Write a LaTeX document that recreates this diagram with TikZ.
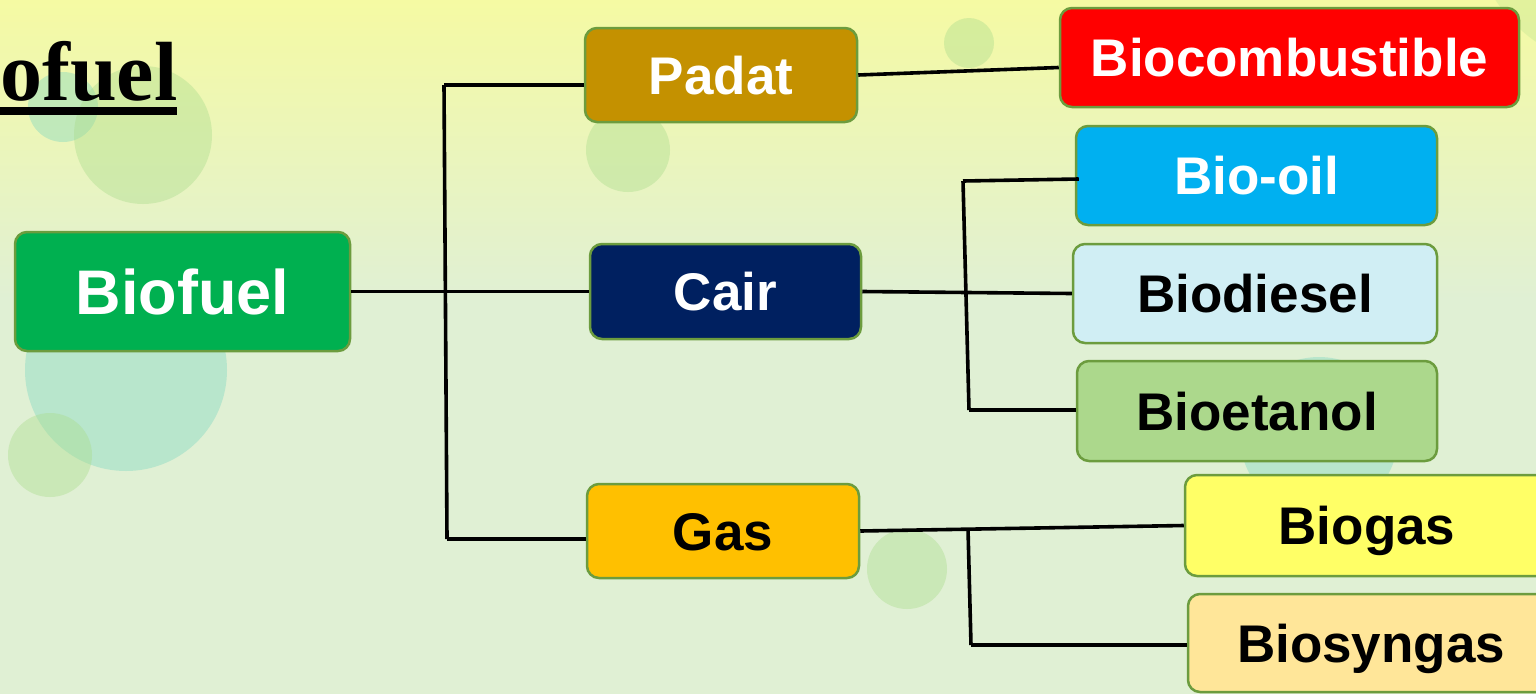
\documentclass[tikz,border=0pt]{standalone}
\usepackage{fontspec}
\setmainfont{Liberation Sans}
\newfontfamily\titlefont{Liberation Serif}
\usetikzlibrary{calc}

\definecolor{bgtop}{RGB}{245,250,163}
\definecolor{bgbot}{RGB}{224,240,212}
\definecolor{dotteal}{RGB}{126,215,192}
\definecolor{dotgreen}{RGB}{170,220,140}
\definecolor{boxline}{RGB}{108,156,62}
\definecolor{cgreen}{RGB}{0,176,80}
\definecolor{cgold}{RGB}{196,145,0}
\definecolor{cnavy}{RGB}{0,32,96}
\definecolor{camber}{RGB}{255,192,0}
\definecolor{cred}{RGB}{255,0,0}
\definecolor{csky}{RGB}{0,176,240}
\definecolor{cice}{RGB}{208,238,244}
\definecolor{cleaf}{RGB}{172,216,140}
\definecolor{clemon}{RGB}{255,255,102}
\definecolor{ccream}{RGB}{255,230,153}

\begin{document}
\begin{tikzpicture}[x=1pt,y=-1pt,
  box/.style={draw=boxline, line width=2.5pt, rounded corners=12pt,
    inner sep=0pt, font=\fontsize{53}{60}\selectfont\bfseries,
    text height=38pt, text depth=0pt},
  link/.style={line width=3.6pt, draw=black},
  dot/.style={fill=#1, fill opacity=0.4}
]
\useasboundingbox (0,0) rectangle (1536,694);

% background
\fill[bgbot] (0,0) rectangle (1536,694);
\shade[top color=bgtop, bottom color=bgbot] (0,0) rectangle (1536,300);

% decorative bubbles
\fill[dot=dotteal] (63,107) circle (35);
\fill[dot=dotgreen] (143,135) circle (69);
\fill[dot=dotteal] (126,370) circle (101);
\fill[dot=dotgreen] (50,455) circle (42);
\fill[dot=dotgreen] (628,150) circle (42);
\fill[dot=dotgreen] (969,43) circle (25);
\fill[dot=dotgreen] (907,569) circle (40);
\fill[dot=dotteal] (1319,436) circle (79);
\fill[dotgreen, fill opacity=0.25] (1620,-80) circle (148);

% heading
\node[anchor=base west, inner sep=0pt,
  font=\titlefont\bfseries\fontsize{84}{90}\selectfont] (title) at (0,100) {ofuel};
\fill (0,107) rectangle (177,115);

% boxes
\node[box, fill=cgreen, text=white, minimum width=335pt, minimum height=119pt,
  font=\fontsize{63}{70}\selectfont\bfseries, text height=45pt] (biofuel) at (182.5,291.5) {Biofuel};
\node[box, fill=cgold, text=white, minimum width=272pt, minimum height=94pt] (padat) at (721,75) {Padat};
\node[box, fill=cnavy, text=white, minimum width=271pt, minimum height=95pt] (cair) at (725.5,291.5) {Cair};
\node[box, fill=camber, text=black, minimum width=272pt, minimum height=94pt] (gas) at (723,531) {Gas};
\node[box, fill=cred, text=white, minimum width=459pt, minimum height=99pt] (bioc) at (1289.5,57.5) {Biocombustible};
\node[box, fill=csky, text=white, minimum width=361pt, minimum height=99pt] (biooil) at (1256.5,175.5) {Bio-oil};
\node[box, fill=cice, text=black, minimum width=364pt, minimum height=99pt] (biodiesel) at (1255,293.5) {Biodiesel};
\node[box, fill=cleaf, text=black, minimum width=360pt, minimum height=100pt] (bioetanol) at (1257,411) {Bioetanol};
\node[box, fill=clemon, text=black, minimum width=364pt, minimum height=101pt] (biogas) at (1367,525.5) {Biogas};
\node[box, fill=ccream, text=black, minimum width=366pt, minimum height=98pt] (biosyngas) at (1371,643) {Biosyngas};

% branch corners
\coordinate (b1t) at (444,85);
\coordinate (b1b) at (447,539);
\coordinate (b2t) at (963,181);
\coordinate (b2b) at (969,410);
\coordinate (b3t) at (968,529);
\coordinate (b3b) at (971,645);

% connectors
\draw[link] (biofuel.east) -- (cair.west);
\draw[link] (b1t) -- (b1b);
\draw[link] (b1t) -- (padat.west |- b1t);
\draw[link] (b1b) -- (gas.west |- b1b);
\draw[link] (padat.east) -- ($(bioc.west)+(0,10)$);
\draw[link] (cair.east) -- (biodiesel.west);
\draw[link] (b2t) -- (b2b);
\draw[link] (b2t) -- ($(biooil.west)+(4,3.5)$);
\draw[link] (b2b) -- (bioetanol.west |- b2b);
\draw[link] (gas.east) -- (biogas.west);
\draw[link] (b3t) -- (b3b);
\draw[link] (b3b) -- (biosyngas.west |- b3b);
\end{tikzpicture}
\end{document}
